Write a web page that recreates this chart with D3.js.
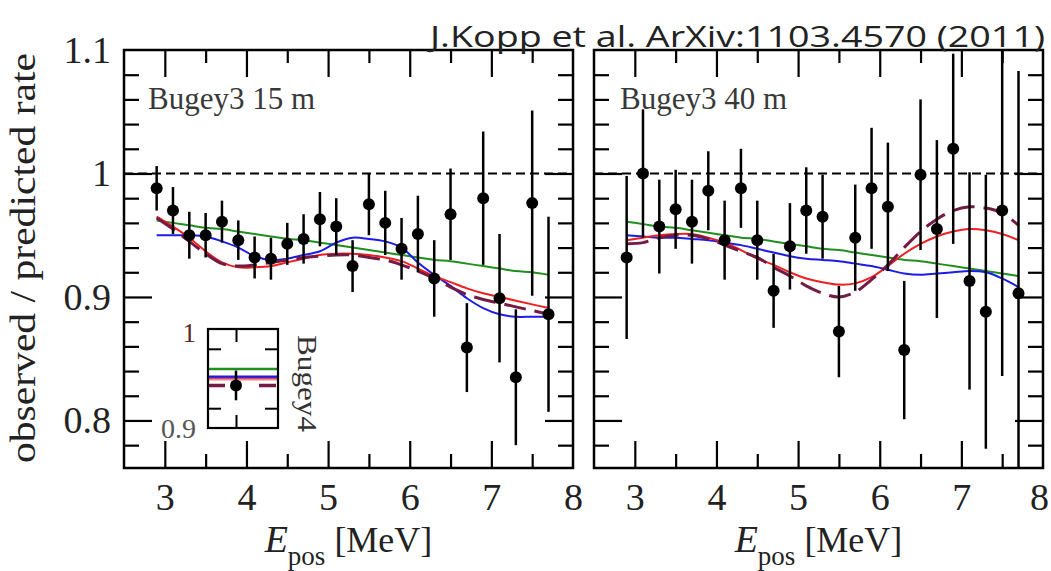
<!DOCTYPE html>
<html>
<head>
<meta charset="utf-8">
<script src="https://cdn.jsdelivr.net/npm/d3@7"></script>
<style>
  html, body { margin: 0; padding: 0; background: #fff; }
  svg { display: block; }
</style>
</head>
<body>
<svg id="chart" width="1051" height="571"></svg>
<script>
// Positron energy bin centres [MeV]
const energyBins = [2.9, 3.1, 3.3, 3.5, 3.7, 3.9, 4.1, 4.3, 4.5, 4.7, 4.9, 5.1, 5.3,
                    5.5, 5.7, 5.9, 6.1, 6.3, 6.5, 6.7, 6.9, 7.1, 7.3, 7.5, 7.7];

// Bugey3 15 m: observed / predicted rate and its error
const ratio15 = [0.988, 0.970, 0.950, 0.950, 0.961, 0.946, 0.932, 0.931, 0.943, 0.947, 0.963, 0.957, 0.925,
                 0.975, 0.960, 0.939, 0.951, 0.915, 0.967, 0.859, 0.980, 0.899, 0.835, 0.976, 0.886];
const error15 = [0.018, 0.019, 0.019, 0.018, 0.017, 0.016, 0.017, 0.017, 0.017, 0.020, 0.022, 0.023, 0.021,
                 0.025, 0.026, 0.025, 0.031, 0.031, 0.037, 0.036, 0.054, 0.052, 0.055, 0.075, 0.079];

// Bugey3 40 m
const ratio40 = [0.932, 1.000, 0.957, 0.971, 0.961, 0.986, 0.946, 0.988, 0.946, 0.905, 0.941, 0.970, 0.965,
                 0.872, 0.948, 0.988, 0.973, 0.857, 0.999, 0.955, 1.020, 0.913, 0.888, 0.970, 0.903];
const error40 = [0.066, 0.052, 0.038, 0.032, 0.034, 0.032, 0.032, 0.032, 0.032, 0.030, 0.035, 0.035, 0.034,
                 0.037, 0.043, 0.049, 0.052, 0.056, 0.061, 0.072, 0.077, 0.088, 0.111, 0.134, 0.180];

// Model predictions (green, blue, red, dashed) sampled at the bin centres
const green15  = [0.962, 0.960, 0.958, 0.956, 0.955, 0.953, 0.951, 0.949, 0.947, 0.946, 0.944, 0.942, 0.940,
                  0.938, 0.936, 0.934, 0.932, 0.930, 0.929, 0.927, 0.925, 0.923, 0.921, 0.920, 0.918];
const blue15   = [0.950, 0.950, 0.950, 0.949, 0.945, 0.940, 0.933, 0.930, 0.931, 0.934, 0.937, 0.944, 0.948,
                  0.947, 0.945, 0.940, 0.928, 0.918, 0.909, 0.899, 0.891, 0.886, 0.884, 0.884, 0.884];
const red15    = [0.965, 0.957, 0.948, 0.937, 0.928, 0.924, 0.924, 0.925, 0.928, 0.931, 0.934, 0.935, 0.935,
                  0.934, 0.932, 0.929, 0.923, 0.917, 0.912, 0.907, 0.903, 0.900, 0.897, 0.894, 0.891];
const dashed15 = [0.964, 0.955, 0.945, 0.935, 0.927, 0.925, 0.926, 0.928, 0.930, 0.932, 0.933, 0.934, 0.934,
                  0.932, 0.930, 0.926, 0.921, 0.915, 0.908, 0.902, 0.898, 0.895, 0.892, 0.889, 0.886];

const green40  = [0.961, 0.959, 0.957, 0.956, 0.954, 0.952, 0.950, 0.948, 0.947, 0.945, 0.943, 0.941, 0.939,
                  0.938, 0.936, 0.934, 0.932, 0.930, 0.929, 0.927, 0.925, 0.923, 0.921, 0.919, 0.917];
const blue40   = [0.950, 0.949, 0.948, 0.948, 0.947, 0.946, 0.944, 0.942, 0.939, 0.936, 0.933, 0.931, 0.930,
                  0.929, 0.927, 0.925, 0.922, 0.919, 0.918, 0.919, 0.920, 0.921, 0.920, 0.915, 0.908];
const red40    = [0.946, 0.948, 0.950, 0.951, 0.951, 0.948, 0.944, 0.938, 0.931, 0.926, 0.920, 0.915, 0.912,
                  0.910, 0.911, 0.916, 0.925, 0.935, 0.943, 0.949, 0.953, 0.955, 0.954, 0.951, 0.946];
const dashed40 = [0.943, 0.944, 0.948, 0.950, 0.950, 0.947, 0.942, 0.937, 0.932, 0.924, 0.917, 0.909, 0.903,
                  0.900, 0.904, 0.914, 0.926, 0.940, 0.953, 0.963, 0.970, 0.973, 0.972, 0.968, 0.958];

// Bugey4 single-point inset: measurement and the four model values
const bugey4Ratio = 0.943, bugey4Error = 0.015;
const bugey4Models = { green: 0.9595, blue: 0.9515, red: 0.9495, dashed: 0.943 };

// Axis tick values and labels
const xMajorTicks = [3, 4, 5, 6, 7];
const xMinorTicks = [3.5, 4.5, 5.5, 6.5, 7.5];
const xTickLabels = [3, 4, 5, 6, 7, 8];
const yMajorTicks = [0.8, 0.9, 1.0];
const yMinorTicks = [0.78, 0.82, 0.84, 0.86, 0.88, 0.92, 0.94, 0.96, 0.98, 1.02, 1.04, 1.06, 1.08];
const yTickLabels = [0.8, 0.9, 1.0, 1.1];
const panelTitles = ["Bugey3 15 m", "Bugey3 40 m"];

const colors = { green: "#1f8f1f", blue: "#1c1ce6", red: "#ee1f1f", dashed: "#731a45" };
const SERIF = "'Liberation Serif', 'Times New Roman', Times, serif";

const svg = d3.select("#chart");
svg.append("rect").attr("width", 1051).attr("height", 571).attr("fill", "#fff");

const plotTop = 50, plotBottom = 468;
const panelW = 449, panelLefts = [124, 594];
const y = d3.scaleLinear().domain([0.7615, 1.1]).range([plotBottom, plotTop]);

const panels = [
  { ratio: ratio15, error: error15, curves: { green: green15, blue: blue15, red: red15, dashed: dashed15 } },
  { ratio: ratio40, error: error40, curves: { green: green40, blue: blue40, red: red40, dashed: dashed40 } }
];

const tickStyle = sel => {
  sel.select(".domain").remove();
  sel.selectAll("line").attr("stroke", "#000").attr("stroke-width", 2.2);
  sel.selectAll("text").remove();
};

panels.forEach((p, i) => {
  const x0 = panelLefts[i];
  const x = d3.scaleLinear().domain([2.5, 8]).range([0, panelW]);
  const g = svg.append("g").attr("transform", `translate(${x0},0)`);

  const clipId = "clip" + i;
  g.append("clipPath").attr("id", clipId)
    .append("rect").attr("x", 0).attr("y", plotTop).attr("width", panelW).attr("height", plotBottom - plotTop);

  const plot = g.append("g").attr("clip-path", `url(#${clipId})`);

  // no-oscillation reference line
  plot.append("line")
    .attr("x1", 0).attr("x2", panelW).attr("y1", y(1)).attr("y2", y(1))
    .attr("stroke", "#000").attr("stroke-width", 2).attr("stroke-dasharray", "9,5");

  // model curves
  const line = d3.line().x((d, k) => x(energyBins[k])).y(d => y(d)).curve(d3.curveCatmullRom.alpha(0.5));
  ["green", "blue", "red", "dashed"].forEach(key => {
    plot.append("path")
      .attr("d", line(p.curves[key]))
      .attr("fill", "none")
      .attr("stroke", colors[key])
      .attr("stroke-width", key === "dashed" ? 3 : 2)
      .attr("stroke-dasharray", key === "dashed" ? "22,9" : null);
  });

  // data with error bars
  plot.selectAll("line.err").data(p.ratio).join("line").attr("class", "err")
    .attr("x1", (d, k) => x(energyBins[k])).attr("x2", (d, k) => x(energyBins[k]))
    .attr("y1", (d, k) => y(d + p.error[k])).attr("y2", (d, k) => y(d - p.error[k]))
    .attr("stroke", "#000").attr("stroke-width", 2.5);
  plot.selectAll("circle").data(p.ratio).join("circle")
    .attr("cx", (d, k) => x(energyBins[k])).attr("cy", d => y(d)).attr("r", 6).attr("fill", "#000");

  // inward ticks on all four sides
  g.append("g").attr("transform", `translate(0,${plotTop})`)
    .call(d3.axisTop(x).tickValues(xMajorTicks).tickSize(-27)).call(tickStyle);
  g.append("g").attr("transform", `translate(0,${plotTop})`)
    .call(d3.axisTop(x).tickValues(xMinorTicks).tickSize(-13)).call(tickStyle);
  g.append("g").attr("transform", `translate(0,${plotBottom})`)
    .call(d3.axisBottom(x).tickValues(xMajorTicks).tickSize(-27)).call(tickStyle);
  g.append("g").attr("transform", `translate(0,${plotBottom})`)
    .call(d3.axisBottom(x).tickValues(xMinorTicks).tickSize(-14)).call(tickStyle);
  g.append("g").call(d3.axisLeft(y).tickValues(yMajorTicks).tickSize(-28)).call(tickStyle);
  g.append("g").call(d3.axisLeft(y).tickValues(yMinorTicks).tickSize(-15)).call(tickStyle);
  g.append("g").attr("transform", `translate(${panelW},0)`)
    .call(d3.axisRight(y).tickValues(yMajorTicks).tickSize(-28)).call(tickStyle);
  g.append("g").attr("transform", `translate(${panelW},0)`)
    .call(d3.axisRight(y).tickValues(yMinorTicks).tickSize(-15)).call(tickStyle);

  // frame
  g.append("rect").attr("x", 0).attr("y", plotTop).attr("width", panelW).attr("height", plotBottom - plotTop)
    .attr("fill", "none").attr("stroke", "#000").attr("stroke-width", 2.5);

  // x tick labels
  const xl = g.append("g").attr("transform", `translate(0,${plotBottom})`)
    .call(d3.axisBottom(x).tickValues(xTickLabels).tickSize(0).tickPadding(15).tickFormat(d3.format("d")));
  xl.select(".domain").remove();
  xl.attr("font-family", null);
  xl.selectAll("text").style("font-family", SERIF).style("font-size", "38px").attr("fill", "#222")
    .attr("dx", d => (i === 1 && d === 8) ? -4 : 0);

  // panel title
  g.append("text")
    .attr("x", i === 0 ? 24 : 26).attr("y", 109)
    .style("font-family", SERIF).style("font-size", "31px").attr("fill", "#383838")
    .text(panelTitles[i]);

  // x-axis title
  const xt = g.append("text")
    .attr("x", panelW / 2).attr("y", 552).attr("text-anchor", "middle").attr("fill", "#222")
    .style("font-family", SERIF);
  xt.append("tspan").style("font-style", "italic").style("font-size", "38px").text("E");
  xt.append("tspan").style("font-size", "27px").attr("dy", 13).text("pos");
  xt.append("tspan").style("font-size", "36px").attr("dy", -13).text(" [MeV]");
});

// y tick labels (left panel only)
const yl = svg.append("g").attr("transform", `translate(${panelLefts[0]},0)`)
  .call(d3.axisLeft(y).tickValues(yTickLabels).tickSize(0).tickPadding(13).tickFormat(d => d === 1 ? "1" : d3.format(".1f")(d)));
yl.select(".domain").remove();
yl.attr("font-family", null);
yl.selectAll("text").style("font-family", SERIF).style("font-size", "38px").attr("fill", "#222");

// y-axis title
svg.append("text")
  .attr("transform", "translate(35,258) rotate(-90)")
  .attr("text-anchor", "middle").attr("fill", "#222")
  .style("font-family", SERIF).style("font-size", "36px")
  .attr("textLength", 410).attr("lengthAdjust", "spacingAndGlyphs")
  .text("observed / predicted rate");

// Bugey4 inset
const ix = d3.scaleLinear().domain([0, 1]).range([208, 278]);
const iy = d3.scaleLinear().domain([0.9, 1.0]).range([428, 329]);
const inset = svg.append("g");
const insetTicks = sel => { sel.select(".domain").remove(); sel.selectAll("line").attr("stroke", "#000").attr("stroke-width", 2); sel.selectAll("text").remove(); };
inset.append("line").attr("x1", ix(0)).attr("x2", ix(1)).attr("y1", iy(bugey4Models.green)).attr("y2", iy(bugey4Models.green))
  .attr("stroke", colors.green).attr("stroke-width", 2.5);
inset.append("line").attr("x1", ix(0)).attr("x2", ix(1)).attr("y1", iy(bugey4Models.blue)).attr("y2", iy(bugey4Models.blue))
  .attr("stroke", colors.blue).attr("stroke-width", 3);
inset.append("line").attr("x1", ix(0)).attr("x2", ix(1)).attr("y1", iy(bugey4Models.red)).attr("y2", iy(bugey4Models.red))
  .attr("stroke", colors.red).attr("stroke-width", 3).attr("stroke-opacity", 0.55);
inset.append("line").attr("x1", ix(0)).attr("x2", ix(1)).attr("y1", iy(bugey4Models.dashed)).attr("y2", iy(bugey4Models.dashed))
  .attr("stroke", colors.dashed).attr("stroke-width", 3.5).attr("stroke-dasharray", "17,34");
inset.append("line").attr("x1", ix(0.4)).attr("x2", ix(0.4))
  .attr("y1", iy(bugey4Ratio + bugey4Error)).attr("y2", iy(bugey4Ratio - bugey4Error))
  .attr("stroke", "#000").attr("stroke-width", 2.5);
inset.append("circle").attr("cx", ix(0.4)).attr("cy", iy(bugey4Ratio)).attr("r", 6).attr("fill", "#000");
inset.append("g").attr("transform", `translate(0,${iy(1)})`).call(d3.axisTop(ix).tickValues([0.4]).tickSize(-13)).call(insetTicks);
inset.append("g").attr("transform", `translate(0,${iy(0.9)})`).call(d3.axisBottom(ix).tickValues([0.4]).tickSize(-13)).call(insetTicks);
inset.append("g").attr("transform", `translate(${ix(0)},0)`).call(d3.axisLeft(iy).tickValues([0.92, 0.98]).tickSize(-13)).call(insetTicks);
inset.append("g").attr("transform", `translate(${ix(1)},0)`).call(d3.axisRight(iy).tickValues([0.92, 0.98]).tickSize(-13)).call(insetTicks);
inset.append("rect").attr("x", ix(0)).attr("y", iy(1)).attr("width", ix(1) - ix(0)).attr("height", iy(0.9) - iy(1))
  .attr("fill", "none").attr("stroke", "#000").attr("stroke-width", 2.2);
inset.append("text").attr("x", 196).attr("y", 342).attr("text-anchor", "end")
  .style("font-family", SERIF).style("font-size", "27px").attr("fill", "#5a2a2a").text("1");
inset.append("text").attr("x", 196).attr("y", 438).attr("text-anchor", "end")
  .style("font-family", SERIF).style("font-size", "28px").attr("fill", "#555").text("0.9");
inset.append("text")
  .attr("transform", "translate(298,335) rotate(90)")
  .style("font-family", SERIF).style("font-size", "28px").attr("fill", "#333")
  .attr("textLength", 97).attr("lengthAdjust", "spacingAndGlyphs")
  .text("Bugey4");

// citation
svg.append("text")
  .attr("x", 1045).attr("y", 47).attr("text-anchor", "end")
  .style("font-family", "'Open Sans', Lato, sans-serif").style("font-size", "30px").style("font-weight", 400)
  .attr("fill", "#222")
  .attr("textLength", 615).attr("lengthAdjust", "spacingAndGlyphs")
  .text("J.Kopp et al. ArXiv:1103.4570 (2011)");
</script>
</body>
</html>
